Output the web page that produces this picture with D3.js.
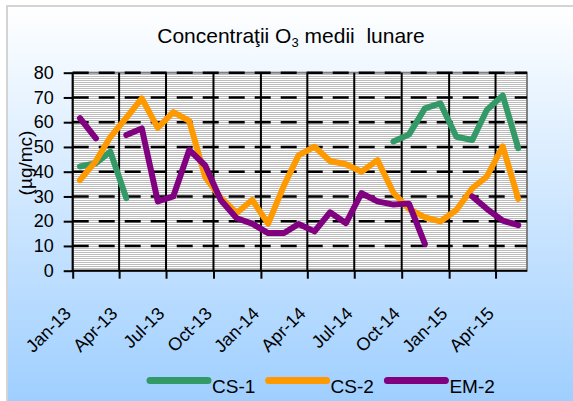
<!DOCTYPE html>
<html>
<head>
<meta charset="utf-8">
<script src="https://cdn.jsdelivr.net/npm/d3@7"></script>
<style>
    body { margin: 0; background: #ffffff; }
    text { font-family: "Liberation Sans", Arial, sans-serif; fill: #000000; }
</style>
</head>
<body>
<div id="chart"></div>
<script>

// months (monthly averages, plotted mid-month)
var months = ["Jan-13", "Feb-13", "Mar-13", "Apr-13", "May-13", "Jun-13", "Jul-13", "Aug-13", "Sep-13", "Oct-13",
    "Nov-13", "Dec-13", "Jan-14", "Feb-14", "Mar-14", "Apr-14", "May-14", "Jun-14", "Jul-14", "Aug-14",
    "Sep-14", "Oct-14", "Nov-14", "Dec-14", "Jan-15", "Feb-15", "Mar-15", "Apr-15", "May-15"];

// series values (ug/mc), null where no data
var cs1 = [42.1, 43.4, 48.1, 29.3, null, null, null, null, null, null,
    null, null, null, null, null, null, null, null, null, null,
    52.2, 55.0, 65.6, 67.6, 54.1, 52.8, 64.9, 70.8, 49.5];
var cs2 = [36.6, 44.3, 54.0, 61.8, 69.6, 57.7, 64.1, 60.5, 37.8, 29.5,
    23.3, 28.6, 19.0, 34.6, 46.6, 50.1, 44.3, 43.0, 40.0, 44.7,
    31.5, 25.0, 21.5, 19.9, 24.5, 33.3, 38.0, 50.2, 29.0];
var em2 = [61.6, 53.5, null, 54.8, 57.5, 28.0, 30.0, 48.8, 42.5, 28.6,
    21.2, 19.0, 15.2, 15.2, 18.9, 15.9, 23.6, 19.2, 31.3, 28.0,
    26.7, 27.1, 10.8, null, null, 30.0, 25.0, 20.2, 18.4];

var seriesNames = ["CS-1", "CS-2", "EM-2"];
var seriesColors = ["#339966", "#ff9900", "#800080"];

// tick labels
var xTickLabels = ["Jan-13", "Apr-13", "Jul-13", "Oct-13", "Jan-14", "Apr-14", "Jul-14", "Oct-14", "Jan-15", "Apr-15"];
var yTicks = [0, 10, 20, 30, 40, 50, 60, 70, 80];

var svgWidth = 573;
var svgHeight = 401;

var plot = { left: 72.7, right: 527, top: 72.7, bottom: 270.7 };

var parseMonth = d3.timeParse("%b-%y");
var formatMonth = d3.timeFormat("%b-%y");

var svg = d3.select("#chart")
    .append("svg")
    .attr("width", svgWidth)
    .attr("height", svgHeight);

var defs = svg.append("defs");

// chart background gradient
var grad = defs.append("linearGradient")
    .attr("id", "bg")
    .attr("x1", 0).attr("y1", 0)
    .attr("x2", 0).attr("y2", 1);
grad.append("stop").attr("offset", "0%").attr("stop-color", "#ffffff");
grad.append("stop").attr("offset", "100%").attr("stop-color", "#99ccff");

// narrow horizontal stripes for the plot area
var pat = defs.append("pattern")
    .attr("id", "stripes")
    .attr("patternUnits", "userSpaceOnUse")
    .attr("x", 0).attr("y", 0)
    .attr("width", 8).attr("height", 2);
pat.append("rect").attr("width", 8).attr("height", 2).attr("fill", "#ffffff");
pat.append("rect").attr("width", 8).attr("height", 1).attr("fill", "#bcbcbc");

svg.append("rect")
    .attr("x", 7).attr("y", 6)
    .attr("width", 580).attr("height", 420)
    .attr("fill", "url(#bg)")
    .attr("stroke", "#d4d4d4")
    .attr("stroke-width", 2);

// title
var title = svg.append("text")
    .attr("x", 291)
    .attr("y", 43)
    .attr("text-anchor", "middle")
    .style("font-size", "21px")
    .style("white-space", "pre");
title.append("tspan").text("Concentraţii O");
title.append("tspan").attr("dy", 4).style("font-size", "13px").text("3");
title.append("tspan").attr("dy", -4).text(" medii  lunare");

// scales
var dates = months.map(function (m) {
    return d3.timeDay.offset(parseMonth(m), 14);
});

var xScale = d3.scaleTime()
    .domain([parseMonth("Jan-13"), parseMonth("Jun-15")])
    .range([plot.left, plot.right]);

var yScale = d3.scaleLinear()
    .domain([0, 80])
    .range([plot.bottom, plot.top]);

var xTickDates = xTickLabels.map(parseMonth);

// plot area
svg.append("rect")
    .attr("x", plot.left)
    .attr("y", plot.top)
    .attr("width", plot.right - plot.left)
    .attr("height", plot.bottom - plot.top)
    .attr("fill", "url(#stripes)")
    .attr("stroke", "#808080")
    .attr("stroke-width", 2);

// vertical gridlines
svg.append("g")
    .selectAll("line")
    .data(xTickDates.slice(1))
    .enter()
    .append("line")
    .attr("x1", d => xScale(d))
    .attr("x2", d => xScale(d))
    .attr("y1", plot.top)
    .attr("y2", plot.bottom)
    .attr("stroke", "#000000")
    .attr("stroke-width", 2);

// horizontal dashed gridlines
svg.append("g")
    .selectAll("line")
    .data(yTicks.slice(1))
    .enter()
    .append("line")
    .attr("x1", plot.left)
    .attr("x2", plot.right)
    .attr("y1", d => yScale(d))
    .attr("y2", d => yScale(d))
    .attr("stroke", "#000000")
    .attr("stroke-width", 2.4)
    .attr("stroke-dasharray", "16,10");

// axes
var yAxis = d3.axisLeft(yScale)
    .tickValues(yTicks)
    .tickSize(9)
    .tickPadding(10);

var yAxisG = svg.append("g")
    .attr("transform", `translate(${plot.left}, 0)`)
    .call(yAxis);
yAxisG.select(".domain").remove();
yAxisG.selectAll("line").attr("stroke", "#000000").attr("stroke-width", 2);
yAxisG.selectAll("text")
    .style("font-size", "18px")
    .attr("font-family", null)
    .attr("fill", "#000000");
yAxisG.append("line")
    .attr("x1", 0).attr("x2", 0)
    .attr("y1", plot.top).attr("y2", plot.bottom + 1)
    .attr("stroke", "#000000")
    .attr("stroke-width", 2);

var xAxis = d3.axisBottom(xScale)
    .tickValues(xTickDates)
    .tickSize(8)
    .tickFormat(formatMonth);

var xAxisG = svg.append("g")
    .attr("transform", `translate(0, ${plot.bottom})`)
    .call(xAxis);
xAxisG.select(".domain").remove();
xAxisG.selectAll("line").attr("stroke", "#000000").attr("stroke-width", 2);
xAxisG.selectAll("text")
    .attr("y", null)
    .attr("dy", null)
    .attr("transform", "translate(-1, 44) rotate(-45)")
    .attr("text-anchor", "end")
    .attr("font-family", null)
    .attr("fill", "#000000")
    .style("font-size", "18px");
xAxisG.append("line")
    .attr("x1", plot.left - 1).attr("x2", plot.right)
    .attr("y1", 0).attr("y2", 0)
    .attr("stroke", "#000000")
    .attr("stroke-width", 2);

// y axis title
svg.append("text")
    .attr("transform", "translate(32, 163) rotate(-90)")
    .attr("text-anchor", "middle")
    .style("font-size", "19px")
    .text("(µg/mc)");

// series lines
var allSeries = [cs1, cs2, em2];

var line = d3.line()
    .defined(d => d !== null)
    .x((d, i) => xScale(dates[i]))
    .y(d => yScale(d));

svg.append("g")
    .selectAll("path")
    .data(allSeries)
    .enter()
    .append("path")
    .attr("d", d => line(d))
    .attr("fill", "none")
    .attr("stroke", (d, i) => seriesColors[i])
    .attr("stroke-width", 6)
    .attr("stroke-linecap", "round")
    .attr("stroke-linejoin", "round");

// legend
var legendX = [150, 268.6, 387.4];

var legend = svg.append("g")
    .selectAll("g")
    .data(seriesNames)
    .enter()
    .append("g")
    .attr("transform", (d, i) => `translate(${legendX[i]}, 380.6)`);

legend.append("line")
    .attr("x1", 0)
    .attr("x2", 58)
    .attr("stroke", (d, i) => seriesColors[i])
    .attr("stroke-width", 7)
    .attr("stroke-linecap", "round");

legend.append("text")
    .attr("x", 62)
    .attr("y", 12)
    .style("font-size", "19px")
    .text(d => d);

</script>
</body>
</html>
